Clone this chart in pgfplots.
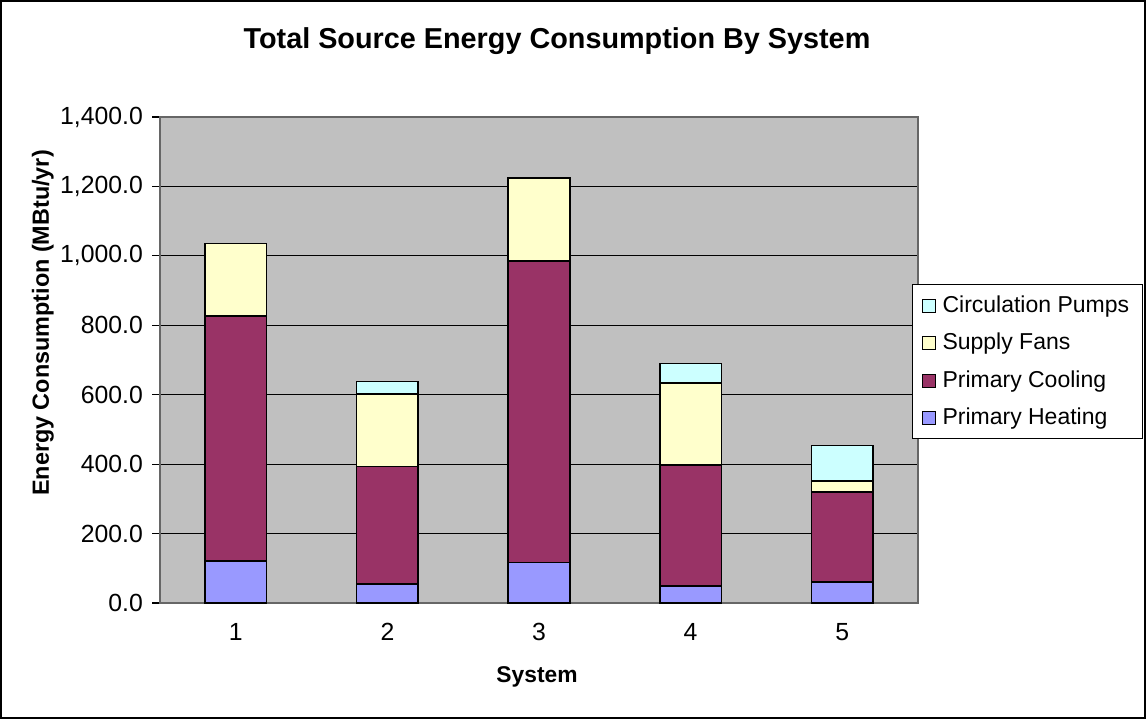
\documentclass[border=0pt]{standalone}
\usepackage{pgfplots}
\pgfplotsset{compat=1.18}
\usepackage{fontspec}
\setmainfont{Liberation Sans}
\definecolor{heat}{HTML}{9999FF}
\definecolor{cool}{HTML}{993366}
\definecolor{fans}{HTML}{FFFFCC}
\definecolor{pumps}{HTML}{CCFFFF}
\definecolor{plotbg}{HTML}{C0C0C0}
\begin{document}
\begin{tikzpicture}[x=1pt,y=1pt]
\draw[line width=1pt] (0.5,0.5) rectangle (572.5,359);
\node[font=\bfseries\fontsize{14.4}{16}\selectfont] at (278.5,339) {Total Source Energy Consumption By System};
\node[font=\bfseries\fontsize{11.7}{14}\selectfont, rotate=90] at (21.5,198) {Energy Consumption (MBtu/yr)};
\node[font=\bfseries\fontsize{11.4}{14}\selectfont] at (268.5,21) {System};
\begin{axis}[
  at={(80pt,58pt)}, anchor=south west,
  scale only axis, width=379pt, height=243pt,
  ybar stacked, bar width=30.8pt,
  xmin=0.5, xmax=5.5, ymin=0, ymax=1400,
  axis background/.style={fill=plotbg},
  axis line style={draw=gray!80!black, line width=0.6pt},
  xtick={1,2,3,4,5}, xticklabels={1,2,3,4,5},
  x tick style={draw=none},
  extra x ticks={1.5,2.5,3.5,4.5},
  extra x tick labels={},
  extra x tick style={tick align=outside, major tick length=4pt, tick style={draw=black, line width=0.6pt}, grid=none},
  ytick={0,200,...,1400},
  ytick align=outside, ytick pos=left, major tick length=4pt,
  y tick style={draw=black, line width=0.6pt},
  ymajorgrids, major grid style={draw=black, line width=0.5pt},
  yticklabel style={xshift=-1pt, /pgf/number format/.cd, fixed, fixed zerofill, precision=1, 1000 sep={,}, assume math mode=true},
  tick label style={font=\fontsize{12.4}{14}\selectfont},
  xticklabel style={yshift=-6.5pt},
  reverse legend,
  legend cell align=left,
  legend style={at={(axis description cs:0.992,0.656)}, anchor=north west,
    draw=black, line width=0.6pt, fill=white, font=\fontsize{11.5}{13}\selectfont,
    inner xsep=4.5pt, inner ysep=1pt, row sep=0pt,
    nodes={inner ysep=0pt, minimum height=18.75pt},
    /tikz/every odd column/.append style={column sep=1.5pt}},
  sq/.style={legend image code/.code={\draw[##1,line width=0.5pt,draw=black] (0pt,-3.25pt) rectangle (6.5pt,3.25pt);}},
]
\addplot[fill=heat, draw=black, line width=0.8pt, sq] coordinates {(1,121) (2,55) (3,117) (4,49) (5,60)};
\addplot[fill=cool, draw=black, line width=0.8pt, sq] coordinates {(1,705) (2,338) (3,868) (4,349) (5,260)};
\addplot[fill=fans, draw=black, line width=0.8pt, sq] coordinates {(1,210) (2,209) (3,240) (4,235) (5,31)};
\addplot[fill=pumps, draw=black, line width=0.8pt, sq] coordinates {(1,0) (2,36) (3,0) (4,57) (5,103)};
\legend{Primary Heating, Primary Cooling, Supply Fans, Circulation Pumps}
\end{axis}
\end{tikzpicture}
\end{document}
